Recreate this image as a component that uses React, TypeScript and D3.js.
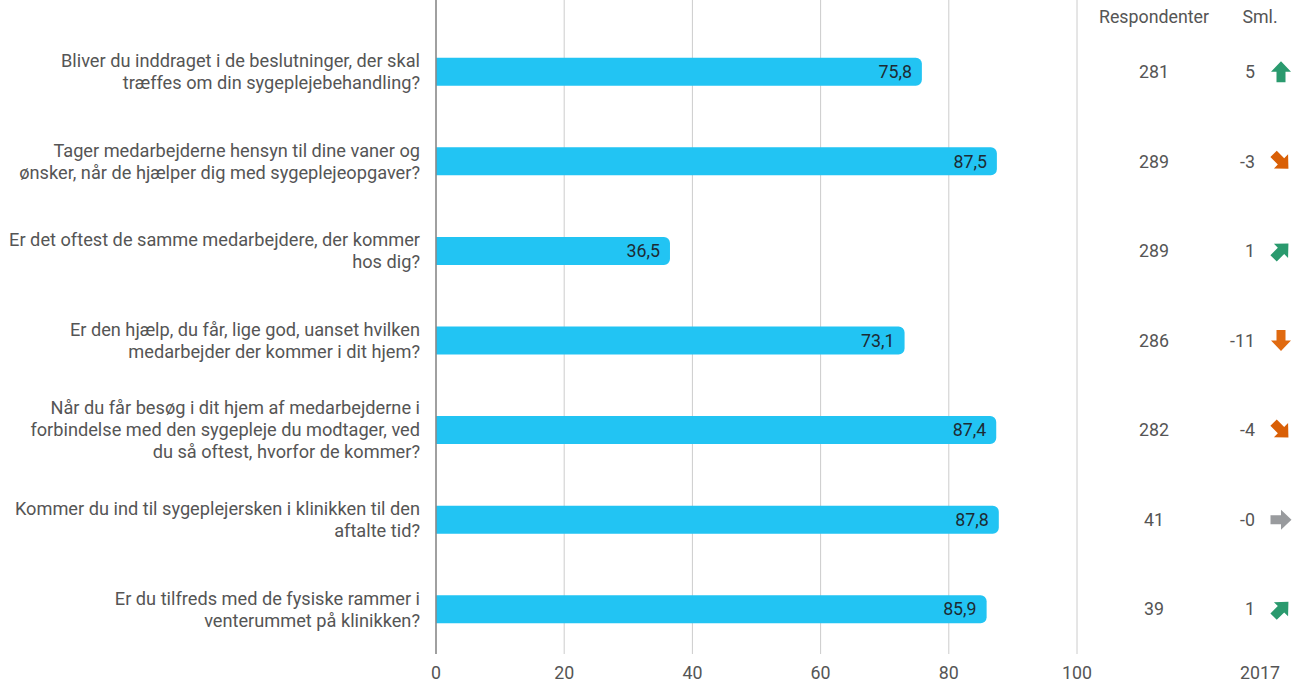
import React from "react";
import * as d3 from "d3";

const questions: string[][] = [
  ["Bliver du inddraget i de beslutninger, der skal", "træffes om din sygeplejebehandling?"],
  ["Tager medarbejderne hensyn til dine vaner og", "ønsker, når de hjælper dig med sygeplejeopgaver?"],
  ["Er det oftest de samme medarbejdere, der kommer", "hos dig?"],
  ["Er den hjælp, du får, lige god, uanset hvilken", "medarbejder der kommer i dit hjem?"],
  ["Når du får besøg i dit hjem af medarbejderne i", "forbindelse med den sygepleje du modtager, ved", "du så oftest, hvorfor de kommer?"],
  ["Kommer du ind til sygeplejersken i klinikken til den", "aftalte tid?"],
  ["Er du tilfreds med de fysiske rammer i", "venterummet på klinikken?"],
];
const values: number[] = [75.8, 87.5, 36.5, 73.1, 87.4, 87.8, 85.9];
const respondents: number[] = [281, 289, 289, 286, 282, 41, 39];
const sml: string[] = ["5", "-3", "1", "-11", "-4", "-0", "1"];
// direction in degrees (0 = up, 90 = right, 180 = down)
const direction: number[] = [0, 135, 45, 180, 135, 90, 45];
const xTicks: number[] = [0, 20, 40, 60, 80, 100];
const yearLabel = "2017";

const W = 1293;
const H = 686;
const x0 = 436;
const x1 = 1077;
const yTop = 27;
const yBottom = 654;

function arrowColor(dir: number): string {
  if (dir === 90) return "#999b9e";
  if (dir < 90) return "#2a9a6e";
  if (dir === 180) return "#e06a10";
  return "#d95f06";
}

export default function App() {
  const x = d3.scaleLinear().domain([0, 100]).range([x0, x1]);
  const y = d3
    .scaleBand<number>()
    .domain(d3.range(values.length))
    .range([yTop, yBottom]);
  const barH = 28;
  const r = 6;
  const fs = 17.8;
  const fsLabel = 18.2;
  const font = "Roboto, 'Noto Sans', sans-serif";
  const arrowPath = "M0,-10.5 L10,0 L4.5,0 L4.5,10.5 L-4.5,10.5 L-4.5,0 L-10,0 Z";

  return (
    <svg width={W} height={H} style={{ position: "absolute", left: 0, top: 0, background: "#fff" }} fontFamily={font}>
      {xTicks.map((t) => (
        <line key={t} x1={x(t)} x2={x(t)} y1={0} y2={yBottom} stroke="#cccccc" strokeWidth={1} />
      ))}
      {values.map((v, i) => {
        const cy = (y(i) as number) + y.bandwidth() / 2;
        const xe = x(v);
        const top = cy - barH / 2;
        const p = d3.path();
        p.moveTo(x0, top);
        p.lineTo(xe - r, top);
        p.arcTo(xe, top, xe, top + r, r);
        p.lineTo(xe, top + barH - r);
        p.arcTo(xe, top + barH, xe - r, top + barH, r);
        p.lineTo(x0, top + barH);
        p.closePath();
        return (
          <g key={i}>
            <path d={p.toString()} fill="#22c4f3" />
            <text x={xe - 10} y={cy} dy="0.35em" textAnchor="end" fontSize={fs} fill="#1d2b33">
              {v.toFixed(1).replace(".", ",")}
            </text>
            <text x={420} y={cy} textAnchor="end" fontSize={fsLabel} fill="#555555">
              {questions[i].map((line, k) => (
                <tspan key={k} x={420} y={cy + (k - (questions[i].length - 1) / 2) * 22} dy="0.35em">
                  {line}
                </tspan>
              ))}
            </text>
            <text x={1154} y={cy} dy="0.35em" textAnchor="middle" fontSize={fs} fill="#555555">
              {respondents[i]}
            </text>
            <text x={1255} y={cy} dy="0.35em" textAnchor="end" fontSize={fs} fill="#555555">
              {sml[i]}
            </text>
            <path
              d={arrowPath}
              transform={`translate(1281,${cy}) rotate(${direction[i]})`}
              fill={arrowColor(direction[i])}
            />
          </g>
        );
      })}
      <line x1={x0} x2={x0} y1={0} y2={yBottom} stroke="#888888" strokeWidth={1.5} />
      {xTicks.map((t) => (
        <text key={t} x={x(t)} y={673} dy="0.35em" textAnchor="middle" fontSize={fs} fill="#555555">
          {t}
        </text>
      ))}
      <text x={1154} y={17} dy="0.35em" textAnchor="middle" fontSize={fs} fill="#555555">
        Respondenter
      </text>
      <text x={1260} y={17} dy="0.35em" textAnchor="middle" fontSize={fs} fill="#555555">
        Sml.
      </text>
      <text x={1260} y={673} dy="0.35em" textAnchor="middle" fontSize={fs} fill="#555555">
        {yearLabel}
      </text>
    </svg>
  );
}
